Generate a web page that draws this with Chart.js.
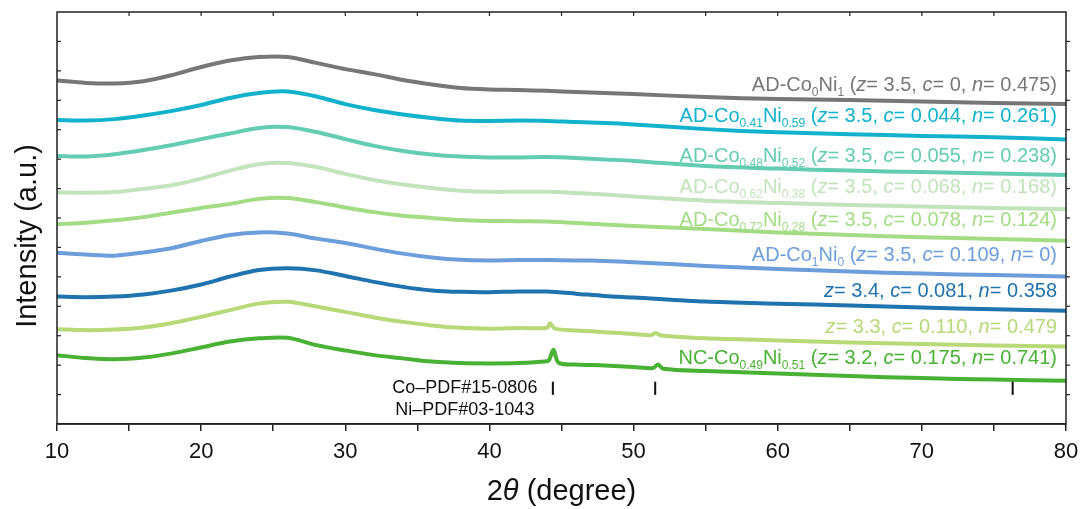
<!DOCTYPE html>
<html>
<head>
<meta charset="utf-8">
<script src="https://cdn.jsdelivr.net/npm/chart.js@4"></script>
<style>
  body { margin: 0; background: #fff; }
  canvas { display: block; }
</style>
</head>
<body>
<canvas id="xrdChart" width="1083" height="509"></canvas>
<script>
// 2theta grid (degree) shared by every pattern
const twoTheta = [10, 12, 14, 16, 18, 20, 22, 24, 26, 28, 30, 32, 34, 36, 38, 40, 42, 44, 46, 48, 50, 55, 60, 65, 70, 75, 80];

// stacked intensities (a.u., offset), top to bottom
const adCo0Ni1   = [11.67, 11.59, 11.57, 11.65, 11.86, 12.13, 12.35, 12.47, 12.47, 12.27, 12.06, 11.89, 11.69, 11.54, 11.42, 11.37, 11.35, 11.32, 11.28, 11.25, 11.21, 11.11, 11.04, 11.01, 10.96, 10.91, 10.87];
const adCo41Ni59 = [10.33, 10.31, 10.36, 10.48, 10.64, 10.84, 11.08, 11.25, 11.30, 11.13, 10.87, 10.67, 10.52, 10.40, 10.31, 10.30, 10.31, 10.30, 10.26, 10.23, 10.18, 10.02, 9.91, 9.85, 9.79, 9.74, 9.67];
const adCo48Ni52 = [9.11, 9.09, 9.17, 9.31, 9.48, 9.68, 9.87, 10.06, 10.09, 9.92, 9.68, 9.45, 9.28, 9.16, 9.09, 9.06, 9.06, 9.07, 9.04, 8.99, 8.94, 8.77, 8.68, 8.61, 8.56, 8.51, 8.46];
const adCo62Ni38 = [7.87, 7.86, 7.88, 7.99, 8.12, 8.34, 8.61, 8.83, 8.87, 8.73, 8.50, 8.29, 8.14, 8.02, 7.93, 7.89, 7.89, 7.89, 7.85, 7.80, 7.73, 7.59, 7.51, 7.44, 7.39, 7.34, 7.30];
const adCo72Ni28 = [6.79, 6.84, 6.92, 7.03, 7.19, 7.34, 7.48, 7.65, 7.68, 7.54, 7.36, 7.20, 7.08, 7.00, 6.93, 6.90, 6.89, 6.88, 6.83, 6.78, 6.73, 6.63, 6.51, 6.42, 6.35, 6.29, 6.23];
const adCo1Ni0   = [5.82, 5.76, 5.72, 5.83, 5.98, 6.22, 6.42, 6.51, 6.47, 6.30, 6.15, 5.96, 5.79, 5.66, 5.58, 5.56, 5.57, 5.57, 5.56, 5.54, 5.50, 5.37, 5.27, 5.18, 5.11, 5.06, 5.01];
const z34        = [4.33, 4.31, 4.33, 4.40, 4.54, 4.74, 5.01, 5.23, 5.29, 5.22, 5.03, 4.83, 4.66, 4.54, 4.49, 4.48, 4.50, 4.50, 4.43, 4.35, 4.30, 4.16, 4.09, 4.03, 3.96, 3.90, 3.85];
const z33        = [3.22, 3.19, 3.21, 3.28, 3.43, 3.64, 3.87, 4.09, 4.15, 3.99, 3.81, 3.62, 3.47, 3.35, 3.27, 3.24, 3.26, 3.27, 3.18, 3.12, 3.06, 2.91, 2.84, 2.77, 2.72, 2.67, 2.63];
const ncCo49Ni51 = [2.34, 2.24, 2.20, 2.26, 2.40, 2.60, 2.80, 2.91, 2.93, 2.68, 2.50, 2.34, 2.23, 2.12, 2.07, 2.06, 2.07, 2.13, 2.02, 1.99, 1.94, 1.80, 1.72, 1.63, 1.56, 1.51, 1.47];

// extra points around the metal reflections
const z33Peaks = [[44.2, 3.42], [44.55, 3.24], [51.2, 3.02], [51.55, 3.09], [51.9, 3.01]];
const ncPeaks  = [[44.15, 2.18], [44.45, 2.52], [44.8, 2.08], [51.35, 1.90], [51.7, 2.02], [52.05, 1.88]];

// standard card positions (Co PDF#15-0806 / Ni PDF#03-1043)
const refPeaks = [44.4, 51.5, 76.3];

// label text
const samplePrefix = [
  ['AD-Co', '0', 'Ni', '1'],
  ['AD-Co', '0.41', 'Ni', '0.59'],
  ['AD-Co', '0.48', 'Ni', '0.52'],
  ['AD-Co', '0.62', 'Ni', '0.38'],
  ['AD-Co', '0.72', 'Ni', '0.28'],
  ['AD-Co', '1', 'Ni', '0'],
  null,
  null,
  ['NC-Co', '0.49', 'Ni', '0.51']
];
const zValues = ['3.5', '3.5', '3.5', '3.5', '3.5', '3.5', '3.4', '3.3', '3.2'];
const cValues = ['0', '0.044', '0.055', '0.068', '0.078', '0.109', '0.081', '0.110', '0.175'];
const nValues = ['0.475', '0.261', '0.238', '0.168', '0.124', '0', '0.358', '0.479', '0.741'];

const colors = ['#777777', '#12b2cc', '#64ccb2', '#c3e3bc', '#a3dc84', '#6c9edc', '#1f73ae', '#b8d978', '#49b234'];

function toPoints(ys, extra) {
  let pts = twoTheta.map((x, i) => ({ x: x, y: ys[i] }));
  if (extra) {
    extra.forEach(p => pts.push({ x: p[0], y: p[1] }));
    pts.sort((a, b) => a.x - b.x);
  }
  return pts;
}

const series = [
  toPoints(adCo0Ni1), toPoints(adCo41Ni59), toPoints(adCo48Ni52),
  toPoints(adCo62Ni38), toPoints(adCo72Ni28), toPoints(adCo1Ni0),
  toPoints(z34), toPoints(z33, z33Peaks), toPoints(ncCo49Ni51, ncPeaks)
];

const FONT = '"Liberation Sans", Arial, sans-serif';

function labelParts(i) {
  let parts = [];
  let pre = samplePrefix[i];
  if (pre) {
    parts.push([pre[0], 'n'], [pre[1], 's'], [pre[2], 'n'], [pre[3], 's'], [' (', 'n']);
  }
  parts.push(['z', 'i'], ['= ' + zValues[i] + ', ', 'n'], ['c', 'i'], ['= ' + cValues[i] + ', ', 'n'], ['n', 'i'], ['= ' + nValues[i], 'n']);
  if (pre) parts.push([')', 'n']);
  return parts;
}

function drawRich(ctx, parts, right, baseline, fonts, subShift) {
  let w = 0;
  parts.forEach(p => { ctx.font = fonts[p[1]]; w += ctx.measureText(p[0]).width; });
  let cx = right - w;
  parts.forEach(p => {
    ctx.font = fonts[p[1]];
    ctx.fillText(p[0], cx, baseline + (p[1] === 's' ? subShift : 0));
    cx += ctx.measureText(p[0]).width;
  });
}

function seg(ctx, x1, y1, x2, y2) {
  ctx.beginPath();
  ctx.moveTo(x1, y1);
  ctx.lineTo(x2, y2);
  ctx.stroke();
}

const decorations = {
  id: 'decorations',
  afterDraw(chart, args, opts) {
    const { ctx, chartArea: a, scales: { x, y } } = chart;
    ctx.save();
    ctx.strokeStyle = '#222';
    ctx.lineWidth = 1.5;
    ctx.strokeRect(a.left, a.top, a.right - a.left, a.bottom - a.top);

    // minor marks on the left/right and top edges
    ctx.lineWidth = 1.2;
    for (let v = 1; v < 14; v++) {
      const py = y.getPixelForValue(v);
      seg(ctx, a.left, py, a.left + 4, py);
      seg(ctx, a.right, py, a.right + 4, py);
    }
    for (let v = 15; v < 80; v += 5) {
      const px = x.getPixelForValue(v);
      seg(ctx, px, a.top, px, a.top + 4);
    }

    // reference card sticks
    ctx.strokeStyle = '#111';
    ctx.lineWidth = 2;
    refPeaks.forEach(p => {
      const px = x.getPixelForValue(p);
      seg(ctx, px, y.getPixelForValue(0.99), px, y.getPixelForValue(1.44));
    });
    ctx.fillStyle = '#111';
    ctx.font = '18px ' + FONT;
    ctx.textAlign = 'center';
    const cardX = x.getPixelForValue(refPeaks[0]) - 88;
    ctx.fillText('Co\u2013PDF#15-0806', cardX, y.getPixelForValue(1.05));
    ctx.fillText('Ni\u2013PDF#03-1043', cardX, y.getPixelForValue(0.32));

    // sample labels
    ctx.textAlign = 'left';
    const fonts = { n: '20px ' + FONT, i: 'italic 20px ' + FONT, s: '12px ' + FONT };
    opts.labelY.forEach((ly, i) => {
      ctx.fillStyle = colors[i];
      drawRich(ctx, labelParts(i), a.right - 9, y.getPixelForValue(ly), fonts, 5);
    });

    // axis titles
    ctx.fillStyle = '#111';
    ctx.save();
    ctx.translate(28, 236);
    ctx.rotate(-Math.PI / 2);
    ctx.textAlign = 'center';
    ctx.textBaseline = 'middle';
    ctx.font = '29px ' + FONT;
    ctx.fillText('Intensity (a.u.)', 0, 0);
    ctx.restore();

    const tParts = [['2', 'n'], ['\u03B8', 'i'], [' (degree)', 'n']];
    const tFonts = { n: '29px ' + FONT, i: 'italic 29px ' + FONT };
    let tw = 0;
    tParts.forEach(p => { ctx.font = tFonts[p[1]]; tw += ctx.measureText(p[0]).width; });
    drawRich(ctx, tParts, (a.left + a.right) / 2 + tw / 2, 500, tFonts, 0);
    ctx.restore();
  }
};

new Chart(document.getElementById('xrdChart'), {
  type: 'line',
  data: {
    datasets: series.map((pts, i) => ({
      data: pts,
      borderColor: colors[i],
      borderWidth: 4,
      pointRadius: 0,
      fill: false,
      tension: 0.3
    }))
  },
  options: {
    responsive: false,
    animation: false,
    devicePixelRatio: 1,
    layout: { padding: { left: 57, top: 12, right: 17, bottom: 0 } },
    plugins: {
      legend: { display: false },
      tooltip: { enabled: false },
      decorations: { labelY: [11.33, 10.25, 8.91, 7.86, 6.73, 5.55, 4.30, 3.10, 2.04] }
    },
    scales: {
      x: {
        type: 'linear',
        min: 10,
        max: 80,
        afterFit(scale) {
          scale.height = 85;
          scale.paddingLeft = 0;
          scale.paddingRight = 0;
        },
        ticks: {
          stepSize: 5,
          autoSkip: false,
          maxRotation: 0,
          padding: 8,
          color: '#111',
          font: { size: 22, family: FONT },
          callback: v => (v % 10 === 0 ? v : '')
        },
        grid: { drawOnChartArea: false, color: '#222', lineWidth: 1.5, tickLength: 7 },
        border: { color: '#222', width: 1.5 }
      },
      y: {
        display: false,
        min: 0,
        max: 14
      }
    }
  },
  plugins: [decorations]
});
</script>
</body>
</html>
